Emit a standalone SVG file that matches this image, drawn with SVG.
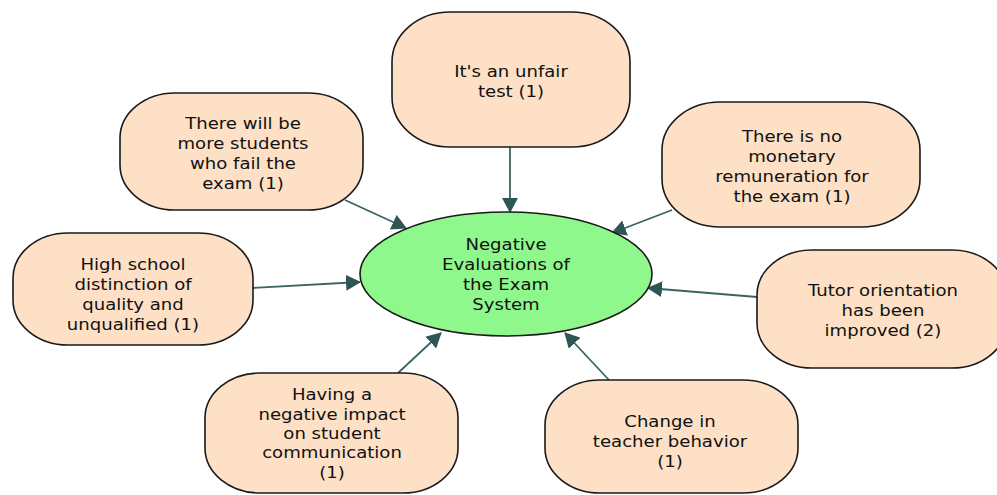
<svg xmlns="http://www.w3.org/2000/svg" width="997" height="495" viewBox="0 0 997 495">
<defs>
<marker id="ah" viewBox="0 0 15 16" refX="14" refY="8" markerWidth="15" markerHeight="16" markerUnits="userSpaceOnUse" orient="auto">
<path d="M0,0 L15,8 L0,16 Z" fill="#2f5656"/>
</marker>
<style>
.n{fill:#fde0c6;stroke:#1a1a1a;stroke-width:1.6}
.c{fill:#8ff88c;stroke:#1a1a1a;stroke-width:1.6}
.t{font-family:"DejaVu Sans",Verdana,sans-serif;font-size:16px;fill:#111111;text-anchor:middle}
.e{stroke:#3a6363;stroke-width:1.8;fill:none;marker-end:url(#ah)}
</style>
</defs>
<rect width="997" height="495" fill="#ffffff"/>
<g id="connectors">
<line class="e" x1="510" y1="147" x2="510" y2="212"/>
<line class="e" x1="345" y1="200" x2="406" y2="228"/>
<line class="e" x1="253" y1="288" x2="360" y2="282"/>
<line class="e" x1="672" y1="210" x2="612" y2="233"/>
<line class="e" x1="757" y1="297" x2="648" y2="288"/>
<line class="e" x1="398" y1="373" x2="441" y2="333"/>
<line class="e" x1="609" y1="380" x2="565" y2="333"/>
</g>
<g id="center">
<ellipse class="c" cx="506" cy="274" rx="146" ry="62"/>
<text class="t" transform="matrix(1.13 0 0 1 506 0)"><tspan x="0" y="250">Negative</tspan><tspan x="0" y="270">Evaluations of</tspan><tspan x="0" y="290">the Exam</tspan><tspan x="0" y="310">System</tspan></text>
</g>
<g id="n-top">
<rect class="n" x="392" y="12" width="238" height="135" rx="58" ry="50"/>
<text class="t" transform="matrix(1.13 0 0 1 511 0)"><tspan x="0" y="77">It's an unfair</tspan><tspan x="0" y="97">test (1)</tspan></text>
</g>
<g id="n-topleft">
<rect class="n" x="120" y="93" width="243" height="117" rx="55" ry="45"/>
<text class="t" transform="matrix(1.13 0 0 1 243 0)"><tspan x="0" y="129">There will be</tspan><tspan x="0" y="149">more students</tspan><tspan x="0" y="169">who fail the</tspan><tspan x="0" y="189">exam (1)</tspan></text>
</g>
<g id="n-topright">
<rect class="n" x="662" y="102" width="258" height="125" rx="58" ry="48"/>
<text class="t" transform="matrix(1.13 0 0 1 792 0)"><tspan x="0" y="142">There is no</tspan><tspan x="0" y="162">monetary</tspan><tspan x="0" y="182">remuneration for</tspan><tspan x="0" y="202">the exam (1)</tspan></text>
</g>
<g id="n-left">
<rect class="n" x="13" y="233" width="240" height="112" rx="55" ry="45"/>
<text class="t" transform="matrix(1.13 0 0 1 133 0)"><tspan x="0" y="270">High school</tspan><tspan x="0" y="290">distinction of</tspan><tspan x="0" y="310">quality and</tspan><tspan x="0" y="330">unqualified (1)</tspan></text>
</g>
<g id="n-right">
<rect class="n" x="757" y="250" width="250" height="118" rx="55" ry="45"/>
<text class="t" transform="matrix(1.13 0 0 1 883 0)"><tspan x="0" y="296">Tutor orientation</tspan><tspan x="0" y="316">has been</tspan><tspan x="0" y="336">improved (2)</tspan></text>
</g>
<g id="n-bottomleft">
<rect class="n" x="205" y="373" width="253" height="120" rx="55" ry="45"/>
<text class="t" transform="matrix(1.13 0 0 1 332 0)"><tspan x="0" y="400">Having a</tspan><tspan x="0" y="420">negative impact</tspan><tspan x="0" y="439">on student</tspan><tspan x="0" y="458">communication</tspan><tspan x="0" y="478">(1)</tspan></text>
</g>
<g id="n-bottomright">
<rect class="n" x="545" y="380" width="253" height="113" rx="55" ry="45"/>
<text class="t" transform="matrix(1.13 0 0 1 670 0)"><tspan x="0" y="427">Change in</tspan><tspan x="0" y="447">teacher behavior</tspan><tspan x="0" y="467">(1)</tspan></text>
</g>
</svg>
